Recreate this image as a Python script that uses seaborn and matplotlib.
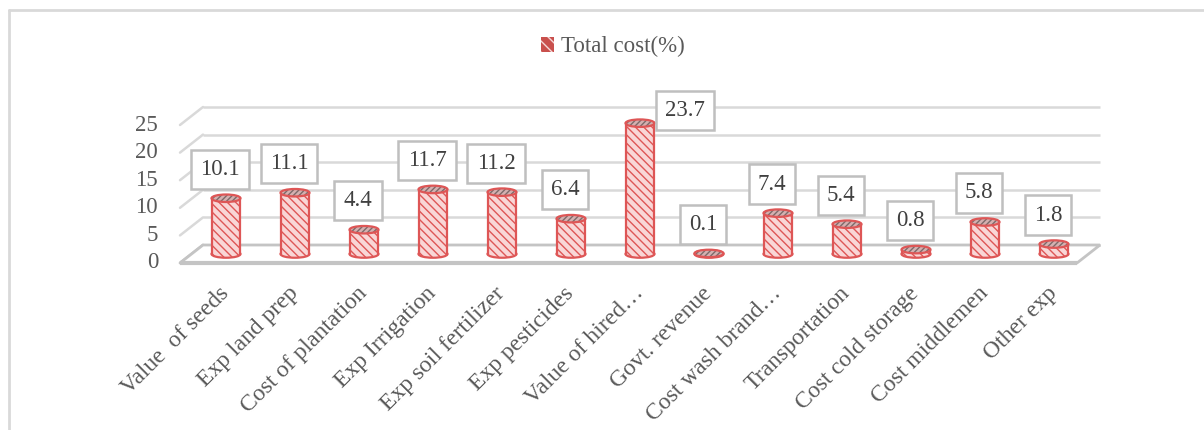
import matplotlib
matplotlib.use("Agg")
import matplotlib.pyplot as plt
import seaborn as sns
import pandas as pd
from matplotlib.patches import Ellipse, Polygon, Patch
from matplotlib.lines import Line2D

categories = ["Value  of seeds", "Exp land prep", "Cost of plantation", "Exp Irrigation",
              "Exp soil fertilizer", "Exp pesticides", "Value of hired…", "Govt. revenue",
              "Cost wash brand…", "Transportation", "Cost cold storage", "Cost middlemen",
              "Other exp"]
total_cost = [10.1, 11.1, 4.4, 11.7, 11.2, 6.4, 23.7, 0.1, 7.4, 5.4, 0.8, 5.8, 1.8]
y_ticks = [0, 5, 10, 15, 20, 25]
series_name = "Total cost(%)"

sns.set_theme(style="white")
plt.rcParams["font.family"] = ["Liberation Serif", "DejaVu Serif"]
plt.rcParams["hatch.linewidth"] = 1.0

RED = "#de5656"
BODY = "#f9d6d6"
TOP = "#d4b0b0"
GRID = "#d9d9d9"
FLOOR = "#c4c4c4"
TXT = "#595959"
FS = 16.5
FS_CAT = 17

fig = plt.figure(figsize=(12.04, 4.30), dpi=100)
FW, FH = 1204, 430
left_px, right_px = 191.5, 1088.5
px_per_unit = 5.52
base_px = 254
top_px = base_px - 25 * px_per_unit
ax = fig.add_axes([left_px / FW, (FH - base_px) / FH,
                   (right_px - left_px) / FW, (base_px - top_px) / FH])

df = pd.DataFrame({"category": categories, "value": total_cost})
sns.barplot(data=df, x="category", y="value", width=0.42, ax=ax)
ax.set_xlim(-0.5, len(categories) - 0.5)
ax.set_ylim(0, 25)
for s in ax.spines.values():
    s.set_visible(False)
ax.set_xlabel("")
ax.set_ylabel("")

# depth of the 3-D box in data units (half depth on each side of the bar plane)
unit_x = (right_px - left_px) / len(categories)
dx = 11.5 / unit_x
dy = 9.0 / px_per_unit
x0, x1 = -0.5, len(categories) - 0.5

# back wall gridlines and left wall
for v in y_ticks:
    col, lw = (FLOOR, 2.0) if v == 0 else (GRID, 1.8)
    ax.plot([x0 + dx, x1 + dx], [v + dy, v + dy], color=col, lw=lw, zorder=0.5,
            clip_on=False, solid_capstyle="butt")
    ax.plot([x0 - dx, x0 + dx], [v - dy, v + dy], color=col, lw=lw, zorder=0.5,
            clip_on=False)
# floor
floor = Polygon([(x0 - dx, -dy), (x1 - dx, -dy), (x1 + dx, dy), (x0 + dx, dy)],
                closed=True, fc="white", ec=FLOOR, lw=2.0, zorder=0.6, clip_on=False)
ax.add_patch(floor)
ax.plot([x0 - dx, x1 - dx], [-dy, -dy], color=FLOOR, lw=3.0, zorder=0.7, clip_on=False,
        solid_capstyle="butt")

# y tick labels on the front edge
for v in y_ticks:
    ax.text(x0 - dx - 22 / unit_x, v - dy, f"{v}", ha="right", va="center",
            fontsize=FS, color=TXT, clip_on=False)
ax.set_yticks([])

# cylinders
ell_h = 7.5 / px_per_unit
for i, (patch, v) in enumerate(zip(ax.patches, total_cost)):
    patch.set_facecolor(BODY)
    patch.set_edgecolor(RED)
    patch.set_linewidth(0)
    patch.set_hatch("\\\\\\\\")
    patch.set_zorder(3)
    patch.set_clip_on(False)
    cx = patch.get_x() + patch.get_width() / 2
    w = patch.get_width()
    bottom = Ellipse((cx, 0), w, ell_h, fc=BODY, ec=RED, lw=1.6, hatch="\\\\\\\\",
                     zorder=2, clip_on=False)
    ax.add_patch(bottom)
    ax.plot([cx - w / 2, cx - w / 2], [0, v], color=RED, lw=1.6, zorder=4, clip_on=False)
    ax.plot([cx + w / 2, cx + w / 2], [0, v], color=RED, lw=1.6, zorder=4, clip_on=False)
    top_fill = Ellipse((cx, v), w, ell_h, fc=TOP, ec="#7d6a6a", lw=0, hatch="//////",
                       zorder=5, clip_on=False)
    ax.add_patch(top_fill)
    top_edge = Ellipse((cx, v), w, ell_h, fc="none", ec=RED, lw=1.6, zorder=5.5,
                       clip_on=False)
    ax.add_patch(top_edge)

    # value label
    above = v + 29 / px_per_unit
    if above > 25:
        lx, ly = cx + 45 / unit_x, v + 13 / px_per_unit
    else:
        lx, ly = cx - 6 / unit_x, above
    ax.text(lx, ly, f"{v}", ha="center", va="center", fontsize=FS, color="#404040",
            zorder=7, clip_on=False,
            bbox=dict(boxstyle="square,pad=0.4", fc="white", ec="#bfbfbf", lw=1.8))

# category labels
ax.set_xticks(range(len(categories)))
ax.set_xticklabels(categories, rotation=45, ha="right", va="center",
                   rotation_mode="anchor", fontsize=FS_CAT, color=TXT)
ax.tick_params(axis="x", length=0, pad=26)

# legend
handle = Patch(facecolor="#c9504d", edgecolor="#f6d8d8", lw=0, hatch="\\\\\\")
fig.legend(handles=[handle], labels=[series_name], loc="center",
           bbox_to_anchor=(0.509, 0.891), frameon=False, fontsize=FS,
           handlelength=0.6, handleheight=0.6, handletextpad=0.3, labelcolor=TXT)

# chart area border
fig.add_artist(Line2D([9 / FW, 1.0], [1 - 10 / FH, 1 - 10 / FH], transform=fig.transFigure,
                      color=GRID, lw=2))
fig.add_artist(Line2D([9 / FW, 9 / FW], [0, 1 - 10 / FH], transform=fig.transFigure,
                      color=GRID, lw=2))

fig.savefig("out.png", dpi=100)
